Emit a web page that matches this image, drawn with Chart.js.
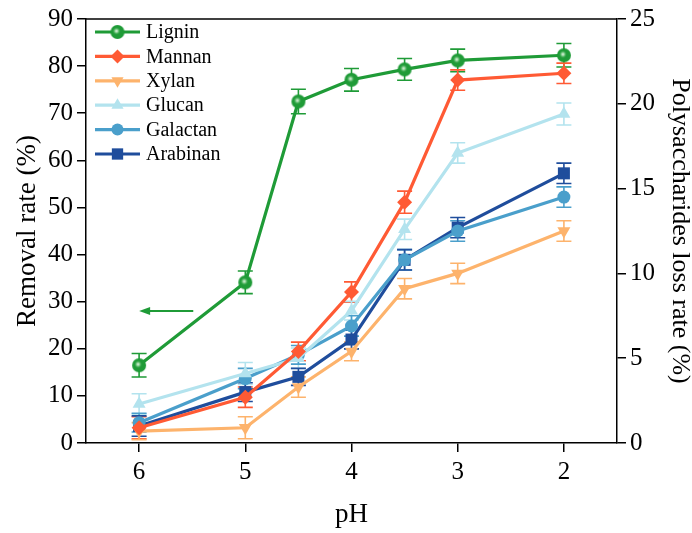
<!DOCTYPE html>
<html>
<head>
<meta charset="utf-8">
<script src="https://cdn.jsdelivr.net/npm/chart.js@4/dist/chart.umd.min.js"></script>
<style>
html, body { margin: 0; padding: 0; background: #fff; }
#wrap { width: 692px; height: 533px; }
</style>
</head>
<body>
<div id="wrap"><canvas id="myChart"></canvas></div>
<script>
// pH values along the x-axis
var ph = [6, 5, 4.5, 4, 3.5, 3, 2];
var xTicks = [6, 5, 4, 3, 2];
// Lignin, left axis (removal rate %)
var lignin = [16.5, 34.1, 72.5, 77.1, 79.3, 81.2, 82.3];
var ligninErr = [2.5, 2.4, 2.6, 2.4, 2.3, 2.4, 2.5];
// Polysaccharides, right axis (loss rate %)
var mannan = [0.9, 2.7, 5.4, 8.9, 14.2, 21.4, 21.8];
var mannanErr = [0.65, 0.6, 0.55, 0.6, 0.65, 0.6, 0.6];
var xylan = [0.7, 0.9, 3.3, 5.4, 9.1, 10.0, 12.5];
var xylanErr = [0.5, 0.65, 0.6, 0.55, 0.6, 0.6, 0.6];
var glucan = [2.3, 4.1, 5.0, 7.8, 12.6, 17.1, 19.4];
var glucanErr = [0.6, 0.65, 0.6, 0.55, 0.6, 0.6, 0.65];
var galactan = [1.2, 3.8, 5.2, 6.9, 10.8, 12.5, 14.5];
var galactanErr = [0.55, 0.6, 0.55, 0.6, 0.6, 0.6, 0.6];
var arabinan = [1.0, 3.0, 3.9, 6.1, 10.8, 12.7, 15.9];
var arabinanErr = [0.6, 0.55, 0.5, 0.55, 0.6, 0.6, 0.6];

Chart.defaults.font.family = "'Liberation Serif', 'DejaVu Serif', serif";
Chart.defaults.color = '#000';

// glossy green marker for lignin
function ligninMarker(r) {
  var c = document.createElement('canvas');
  c.width = c.height = r * 2 + 2;
  var g = c.getContext('2d');
  var cx = r + 1;
  g.beginPath();
  g.arc(cx, cx, r, 0, Math.PI * 2);
  g.fillStyle = '#1f9b37';
  g.fill();
  var grad = g.createRadialGradient(cx - 1, cx - 1, 0, cx - 1, cx - 1, r * 0.6);
  grad.addColorStop(0, 'rgba(255,255,255,0.95)');
  grad.addColorStop(0.4, 'rgba(200,240,200,0.6)');
  grad.addColorStop(1, 'rgba(31,155,55,0)');
  g.beginPath();
  g.arc(cx, cx, r, 0, Math.PI * 2);
  g.fillStyle = grad;
  g.fill();
  return c;
}
var ligninDot = ligninMarker(7);

function pts(arr) {
  return ph.map(function (p, i) { return { x: p, y: arr[i] }; });
}

function series(label, arr, err, color, style, radius, rotation, axis) {
  return {
    label: label,
    data: pts(arr),
    err: err,
    yAxisID: axis,
    borderColor: color,
    backgroundColor: color,
    borderWidth: 3.2,
    pointStyle: style,
    pointRadius: radius,
    pointRotation: rotation,
    pointBorderWidth: 0,
    pointBackgroundColor: color,
    fill: false,
    tension: 0
  };
}

var datasets = [
  series('Lignin', lignin, ligninErr, '#1f9b37', ligninDot, 7, 0, 'y'),
  series('Mannan', mannan, mannanErr, '#ff5a34', 'rectRot', 7.5, 0, 'y2'),
  series('Xylan', xylan, xylanErr, '#fdb36c', 'triangle', 7.5, 180, 'y2'),
  series('Glucan', glucan, glucanErr, '#b3e3ee', 'triangle', 7.5, 0, 'y2'),
  series('Galactan', galactan, galactanErr, '#4a9fcb', 'circle', 6.5, 0, 'y2'),
  series('Arabinan', arabinan, arabinanErr, '#1f4d9c', 'rect', 8.5, 0, 'y2')
];

var errorBars = {
  id: 'errorBars',
  beforeDatasetsDraw: function (chart) {
    var ctx = chart.ctx;
    chart.data.datasets.forEach(function (ds, di) {
      var meta = chart.getDatasetMeta(di);
      var sc = chart.scales[ds.yAxisID];
      ctx.save();
      ctx.strokeStyle = ds.borderColor;
      ctx.lineWidth = 1.6;
      meta.data.forEach(function (pt, i) {
        var v = ds.data[i].y, e = ds.err[i];
        var yt = sc.getPixelForValue(v + e), yb = sc.getPixelForValue(v - e);
        ctx.beginPath();
        ctx.moveTo(pt.x, yt); ctx.lineTo(pt.x, yb);
        ctx.moveTo(pt.x - 7.5, yt); ctx.lineTo(pt.x + 7.5, yt);
        ctx.moveTo(pt.x - 7.5, yb); ctx.lineTo(pt.x + 7.5, yb);
        ctx.stroke();
      });
      ctx.restore();
    });
  }
};

var frameAndLegend = {
  id: 'frameAndLegend',
  afterDraw: function (chart) {
    var ctx = chart.ctx, a = chart.chartArea;
    ctx.save();
    ctx.strokeStyle = '#000';
    ctx.lineWidth = 1.5;
    ctx.beginPath();
    ctx.moveTo(a.left, a.top); ctx.lineTo(a.right, a.top);
    ctx.stroke();

    // arrow pointing to the left axis
    var xs = chart.scales.x, ys = chart.scales.y;
    var x1 = xs.getPixelForValue(5.49), x0 = xs.getPixelForValue(6.0), yy = ys.getPixelForValue(28);
    ctx.strokeStyle = '#1f9b37';
    ctx.fillStyle = '#1f9b37';
    ctx.lineWidth = 2;
    ctx.beginPath();
    ctx.moveTo(x1, yy); ctx.lineTo(x0 + 8, yy);
    ctx.stroke();
    ctx.beginPath();
    ctx.moveTo(x0, yy); ctx.lineTo(x0 + 11, yy - 4); ctx.lineTo(x0 + 11, yy + 4);
    ctx.closePath();
    ctx.fill();

    // legend
    ctx.font = "20px 'Liberation Serif'";
    ctx.textBaseline = 'middle';
    ctx.textAlign = 'left';
    chart.data.datasets.forEach(function (ds, i) {
      var y = a.top + 13 + i * 24.4;
      var lx = a.left + 9;
      ctx.strokeStyle = ds.borderColor;
      ctx.lineWidth = 3.2;
      ctx.beginPath();
      ctx.moveTo(lx, y); ctx.lineTo(lx + 45, y);
      ctx.stroke();
      ctx.fillStyle = ds.borderColor;
      Chart.helpers.drawPoint(ctx, {
        pointStyle: ds.pointStyle,
        radius: ds.pointRadius - 0.5,
        rotation: ds.pointRotation,
        borderWidth: 0
      }, lx + 22.5, y);
      ctx.fillStyle = '#000';
      ctx.fillText(ds.label, lx + 51, y + 1);
    });
    ctx.restore();
  }
};

var ctx = document.getElementById('myChart');
var myChart = new Chart(ctx, {
  type: 'line',
  data: { datasets: datasets },
  plugins: [errorBars, frameAndLegend],
  options: {
    responsive: true,
    maintainAspectRatio: false,
    animation: false,
    layout: { padding: { top: 18, left: 0, right: 0, bottom: 0 } },
    plugins: { legend: { display: false }, tooltip: { enabled: false } },
    scales: {
      x: {
        type: 'linear',
        reverse: true,
        min: 1.5,
        max: 6.5,
        afterBuildTicks: function (s) { s.ticks = xTicks.map(function (v) { return { value: v }; }); },
        afterFit: function (s) { s.height = 90; },
        grid: { drawOnChartArea: false, tickLength: 9, color: '#000', lineWidth: 1.5 },
        border: { color: '#000', width: 1.5 },
        ticks: { font: { size: 25 }, padding: 5 },
        title: { display: true, text: 'pH', font: { size: 27 }, padding: { top: 0, bottom: 2 } }
      },
      y: {
        position: 'left',
        min: 0,
        max: 90,
        afterFit: function (s) { s.width = 86; },
        grid: { drawOnChartArea: false, tickLength: 9, color: '#000', lineWidth: 1.5 },
        border: { color: '#000', width: 1.5 },
        ticks: { stepSize: 10, font: { size: 25 }, padding: 4 },
        title: { display: true, text: 'Removal rate (%)', font: { size: 27 }, padding: { top: 12, bottom: 0 } }
      },
      y2: {
        position: 'right',
        min: 0,
        max: 25,
        afterFit: function (s) { s.width = 75; },
        grid: { drawOnChartArea: false, tickLength: 9, color: '#000', lineWidth: 1.5 },
        border: { color: '#000', width: 1.5 },
        ticks: { stepSize: 5, font: { size: 25 }, padding: 4 },
        title: { display: true, text: 'Polysaccharides loss rate (%)', font: { size: 26 }, padding: { top: -3, bottom: 0 } }
      }
    }
  }
});
</script>
</body>
</html>
